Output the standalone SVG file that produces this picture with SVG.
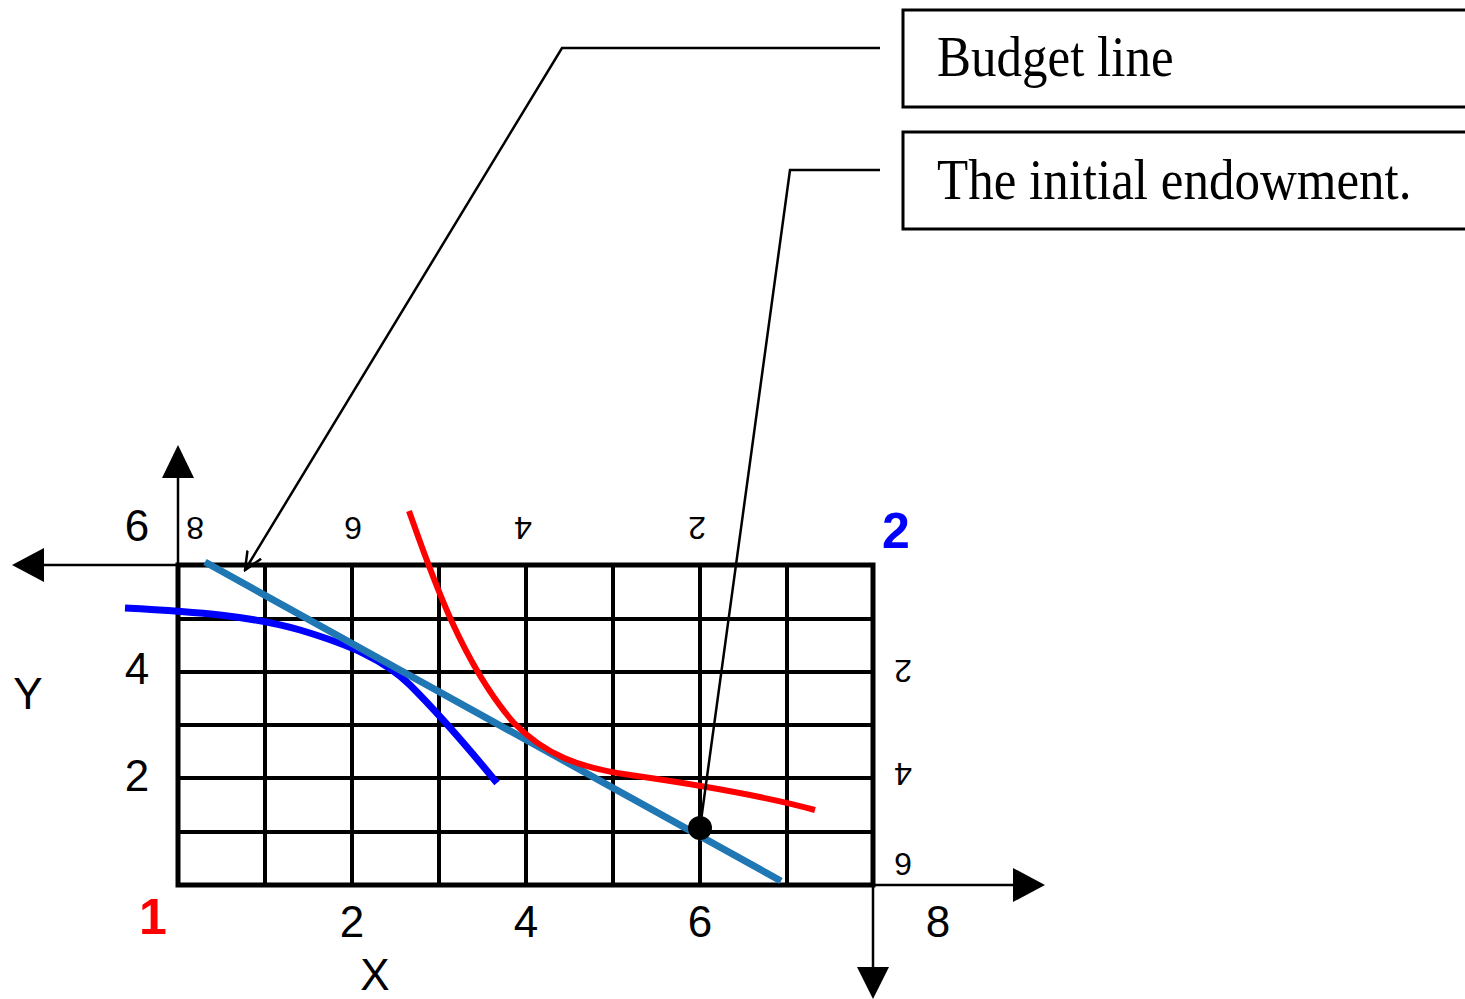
<svg xmlns="http://www.w3.org/2000/svg" width="1465" height="999" viewBox="0 0 1465 999">
<style>
.grid{stroke:#000;stroke-width:4;fill:none}
.frame{stroke:#000;stroke-width:5;fill:none}
.axis{stroke:#000;stroke-width:2.5;fill:none}
.num{font-family:"Liberation Sans",Arial,sans-serif;font-size:44px;fill:#000}
.small{font-family:"Liberation Sans",Arial,sans-serif;font-size:32px;fill:#000}
.box{fill:#fff;stroke:#000;stroke-width:3}
.boxtext{font-family:"Liberation Serif","Times New Roman",serif;font-size:51px;fill:#000}
.leader{stroke:#000;stroke-width:2.5;fill:none}
</style>
<defs>
<marker id="open" viewBox="0 0 20 20" refX="18" refY="10" markerWidth="20" markerHeight="20" markerUnits="userSpaceOnUse" orient="auto">
<path d="M0,2 L18,10 L0,18" fill="none" stroke="#000" stroke-width="2.5"/>
</marker>
</defs>
<rect width="1465" height="999" fill="#fff"/>
<g id="axes">
<line class="axis" x1="178" y1="565" x2="178" y2="476"/>
<polygon points="178,445 162,478 194,478" fill="#000"/>
<line class="axis" x1="178" y1="565" x2="44" y2="565"/>
<polygon points="12,565 44,548 44,582" fill="#000"/>
<line class="axis" x1="873" y1="885" x2="1013" y2="885"/>
<polygon points="1045,885 1013,868 1013,902" fill="#000"/>
<line class="axis" x1="873" y1="885" x2="873" y2="967"/>
<polygon points="873,999 857,967 889,967" fill="#000"/>
</g>
<g id="grid">
<line class="grid" x1="265" y1="565" x2="265" y2="885"/>
<line class="grid" x1="352" y1="565" x2="352" y2="885"/>
<line class="grid" x1="439" y1="565" x2="439" y2="885"/>
<line class="grid" x1="526" y1="565" x2="526" y2="885"/>
<line class="grid" x1="613" y1="565" x2="613" y2="885"/>
<line class="grid" x1="700" y1="565" x2="700" y2="885"/>
<line class="grid" x1="787" y1="565" x2="787" y2="885"/>
<line class="grid" x1="178" y1="619" x2="873" y2="619"/>
<line class="grid" x1="178" y1="672" x2="873" y2="672"/>
<line class="grid" x1="178" y1="725" x2="873" y2="725"/>
<line class="grid" x1="178" y1="778" x2="873" y2="778"/>
<line class="grid" x1="178" y1="832" x2="873" y2="832"/>
<rect class="frame" x="178" y="565" width="695" height="320"/>
</g>
<g id="labels">
<text class="num" x="137" y="541" text-anchor="middle">6</text>
<text class="num" x="137" y="684" text-anchor="middle">4</text>
<text class="num" x="137" y="791" text-anchor="middle">2</text>
<text class="num" x="28" y="709" text-anchor="middle">Y</text>
<text class="num" x="352" y="937" text-anchor="middle">2</text>
<text class="num" x="526" y="937" text-anchor="middle">4</text>
<text class="num" x="700" y="937" text-anchor="middle">6</text>
<text class="num" x="938" y="937" text-anchor="middle">8</text>
<text class="num" x="375" y="990" text-anchor="middle">X</text>
<text x="153" y="934" text-anchor="middle" font-family="Liberation Sans,Arial,sans-serif" font-weight="bold" font-size="50" fill="#ff0000">1</text>
<text x="896" y="548" text-anchor="middle" font-family="Liberation Sans,Arial,sans-serif" font-weight="bold" font-size="50" fill="#0000ff">2</text>
<text class="small" x="195" y="541" text-anchor="middle" transform="rotate(180 195 529)">8</text>
<text class="small" x="353" y="541" text-anchor="middle" transform="rotate(180 353 529)">6</text>
<text class="small" x="523" y="541" text-anchor="middle" transform="rotate(180 523 529)">4</text>
<text class="small" x="697" y="541" text-anchor="middle" transform="rotate(180 697 529)">2</text>
<text class="small" x="903" y="684" text-anchor="middle" transform="rotate(180 903 672)">2</text>
<text class="small" x="903" y="787" text-anchor="middle" transform="rotate(180 903 775)">4</text>
<text class="small" x="903" y="877" text-anchor="middle" transform="rotate(180 903 865)">6</text>
</g>
<g id="curves">
<path d="M125,608 C200,612 250,616 300,630 C350,645 385,660 410,685 C440,715 470,750 497,783" stroke="#0000ff" stroke-width="7" fill="none"/>
<line x1="205" y1="562" x2="781" y2="881" stroke="#1f77b4" stroke-width="7"/>
<path d="M409,511 C430,570 460,660 513,722 C545,755 580,768 630,775 C700,785 760,795 815,810" stroke="#ff0000" stroke-width="6" fill="none"/>
</g>
<g id="endowment-point">
<circle cx="700" cy="828" r="12" fill="#000"/>
</g>
<g id="budget-line-label">
<rect class="box" x="903" y="10" width="575" height="97"/>
<text class="boxtext" transform="translate(937,76) scale(1,1.1)">Budget line</text>
</g>
<g id="endowment-label">
<rect class="box" x="903" y="132" width="575" height="97"/>
<text class="boxtext" transform="translate(937,199) scale(1,1.1)">The initial endowment.</text>
</g>
<g id="connectors">
<polyline class="leader" points="880,48 562,48 245,570" marker-end="url(#open)"/>
<polyline class="leader" points="880,170 790,170 700,828"/>
</g>
</svg>
